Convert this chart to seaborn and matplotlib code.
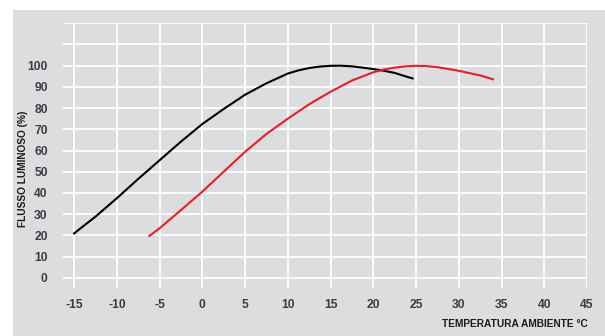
import pandas as pd
import matplotlib
matplotlib.use("Agg")
import matplotlib.pyplot as plt
from matplotlib.patches import Rectangle
import seaborn as sns

# --- Data ---
black_temp = [-15, -12.5, -10, -7.5, -5, -2.5, 0, 2.5, 5, 7.5, 10, 11.25, 12.5, 13.75, 15, 16.25,
              17.5, 18.75, 20, 21.25, 22.5, 23.75, 24.6]
black_flux = [20.9, 28.8, 37.5, 46.6, 55.4, 64.2, 72.5, 79.6, 86.3, 91.7, 96.3, 97.8, 98.9, 99.6, 99.95,
              100.0, 99.7, 99.1, 98.4, 97.6, 96.6, 95.0, 94.0]

red_temp = [-6.2, -5, -2.5, 0, 2.5, 5, 7.5, 10, 12.5, 15, 17.5, 20, 21.25, 22.5, 23.75, 25, 26.25,
            27.5, 30, 32.5, 34]
red_flux = [19.7, 23.3, 31.9, 40.6, 50.0, 59.4, 67.8, 75.0, 81.8, 87.7, 93.0, 96.9, 98.2, 99.1, 99.7,
            99.95, 99.8, 99.3, 97.6, 95.4, 93.6]

x_ticks = [-15, -10, -5, 0, 5, 10, 15, 20, 25, 30, 35, 40, 45]
y_ticks = [0, 10, 20, 30, 40, 50, 60, 70, 80, 90, 100, 110, 120]
y_tick_labels = ["0", "10", "20", "30", "40", "50", "60", "70", "80", "90", "100", "", ""]

df = pd.concat([
    pd.DataFrame({"temp": black_temp, "flux": black_flux, "serie": "A"}),
    pd.DataFrame({"temp": red_temp, "flux": red_flux, "serie": "B"}),
])

# --- Style ---
BG = "#dcdddf"
TICK_COL = "#3a3e42"
plt.rcParams["font.family"] = ["Liberation Sans", "DejaVu Sans"]

fig = plt.figure(figsize=(6.05, 3.36), dpi=100)
fig.patch.set_facecolor("white")
# gray panel behind everything (white strip on top and left)
fig.patches.append(Rectangle((13 / 605, 0), 1, 326 / 336, transform=fig.transFigure,
                             facecolor=BG, edgecolor="none", zorder=-10))

ax = fig.add_axes([63 / 605, (336 - 288.3) / 336, 524 / 605, 265 / 336])
ax.set_zorder(5)
ax.set_facecolor(BG)

sns.lineplot(data=df, x="temp", y="flux", hue="serie", sort=False,
             palette={"A": "#000000", "B": "#ed1c24"}, linewidth=1.5,
             legend=False, ax=ax, zorder=3)

ax.set_xlim(-16.3, 45)
ax.set_ylim(-5, 120)
ax.set_xticks(x_ticks)
ax.set_yticks(y_ticks)
ax.set_xticklabels([str(t) for t in x_ticks])
ax.set_yticklabels(y_tick_labels)
ax.grid(True, color="white", linewidth=1.3, zorder=1)
ax.set_axisbelow(True)
for s in ax.spines.values():
    s.set_visible(False)

ax.tick_params(axis="both", length=0, labelcolor=TICK_COL, labelsize=8.7)
ax.tick_params(axis="y", pad=11)
ax.tick_params(axis="x", pad=8)
for lab in ax.get_xticklabels() + ax.get_yticklabels():
    lab.set_fontweight("bold")

ax.set_xlabel("")
ax.set_ylabel("")
fig.text(23 / 605, 1 - 168.5 / 336, "FLUSSO LUMINOSO (%)", rotation=90,
         ha="center", va="center", fontsize=7.3, fontweight="bold", color="#1a1a1a")
fig.text(588 / 605, 1 - 324 / 336, "TEMPERATURA AMBIENTE °C",
         ha="right", va="center", fontsize=7.3, fontweight="bold", color="#1a1a1a")

fig.savefig("out.png", dpi=100, facecolor=fig.get_facecolor())
